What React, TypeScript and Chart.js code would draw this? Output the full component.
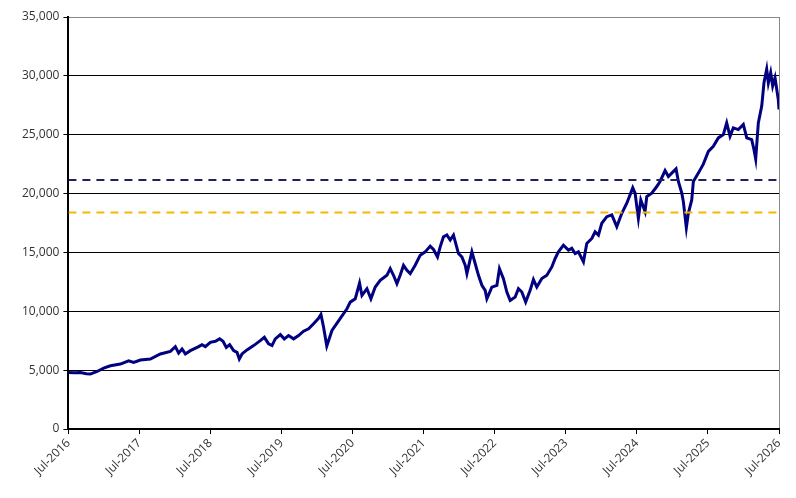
import React, { useEffect, useRef } from 'react';
import { Chart, registerables } from 'chart.js';

Chart.register(...registerables);

// decimal years (Jul-2016 = 2016.5)
const dates: number[] = [
    2016.5, 2016.584, 2016.669, 2016.753, 2016.809, 2016.904, 2016.996, 2017.091, 2017.231, 2017.348, 2017.418,
    2017.513, 2017.653, 2017.794, 2017.935, 2018.005, 2018.051, 2018.099, 2018.146, 2018.216, 2018.333,
    2018.38, 2018.427, 2018.497, 2018.568, 2018.628, 2018.676, 2018.722, 2018.769, 2018.825, 2018.873,
    2018.905, 2018.943, 2019.013, 2019.106, 2019.2, 2019.257, 2019.317, 2019.365, 2019.411, 2019.482,
    2019.538, 2019.598, 2019.669, 2019.739, 2019.809, 2019.88, 2019.95, 2020.02,
    2020.054, 2020.091, 2020.136, 2020.209, 2020.326,
    2020.42, 2020.466, 2020.537, 2020.597, 2020.631, 2020.701, 2020.757, 2020.818, 2020.888, 2020.982,
    2021.029, 2021.075, 2021.123, 2021.169, 2021.216, 2021.264, 2021.31, 2021.38, 2021.451, 2021.521,
    2021.591, 2021.638, 2021.694, 2021.732, 2021.778, 2021.826, 2021.873, 2021.919, 2021.957, 2021.989,
    2022.037, 2022.084, 2022.108, 2022.178, 2022.224, 2022.271, 2022.319, 2022.365, 2022.389, 2022.459,
    2022.53, 2022.566, 2022.622, 2022.67, 2022.717, 2022.787, 2022.833, 2022.881, 2022.935, 2022.998,
    2023.044, 2023.092, 2023.162, 2023.233, 2023.303, 2023.35, 2023.396, 2023.466, 2023.537, 2023.584,
    2023.631, 2023.677, 2023.748, 2023.795, 2023.866, 2023.912, 2023.959, 2024.006, 2024.077, 2024.147,
    2024.217, 2024.288, 2024.358, 2024.404, 2024.442, 2024.475, 2024.499, 2024.521, 2024.555, 2024.615,
    2024.639, 2024.709, 2024.78, 2024.826, 2024.897, 2024.943, 2024.991, 2025.051, 2025.084, 2025.132,
    2025.154, 2025.196, 2025.224, 2025.272, 2025.295, 2025.365, 2025.435, 2025.506, 2025.576, 2025.646,
    2025.717, 2025.764, 2025.811, 2025.857, 2025.928, 2025.998, 2026.046, 2026.116, 2026.148, 2026.172,
    2026.209, 2026.257, 2026.289, 2026.327, 2026.35, 2026.383, 2026.411, 2026.444, 2026.468, 2026.49,
    2026.5
];

const indexValues: number[] = [
    4800, 4780, 4800, 4700, 4670, 4890, 5180, 5380, 5520, 5800, 5660,
    5860, 5950, 6380, 6600, 7000, 6450, 6800, 6380, 6660, 7000,
    7170, 7000, 7370, 7450, 7660, 7450, 6940, 7170, 6660, 6510,
    5950, 6380, 6720, 7090, 7510, 7790, 7230, 7090, 7660, 8020,
    7660, 7940, 7660, 7940, 8310, 8510, 8940, 9400,
    9730, 8650, 7050, 8370, 9400,
    10220, 10780, 11070, 12400, 11350, 11920, 11070, 12060, 12630, 13060,
    13630, 13060, 12350, 13060, 13910, 13490, 13200, 13910, 14770, 15050,
    15540, 15250, 14620, 15480, 16330, 16480, 16050, 16480, 15620, 14910,
    14620, 13910, 13200, 15050, 14060, 13060, 12210, 11780, 11070, 12060,
    12210, 13630, 12780, 11640, 10930, 11210, 11920, 11640, 10780, 11780,
    12700, 12060, 12780, 13060, 13770, 14490, 15050, 15620, 15200, 15350,
    14910, 15050, 14200, 15770, 16190, 16760, 16480, 17480, 18040, 18190,
    17190, 18330, 19180, 19890, 20500, 20040, 18890, 17900, 19460, 18470,
    19750, 20040, 20600, 21030, 21950, 21450, 21740, 22100, 21030, 20040,
    19320, 17100, 18330, 19460, 21030, 21740, 22500, 23590, 24020, 24730,
    25010, 26010, 24870, 25590, 25440, 25870, 24730, 24590, 23730, 22940,
    26010, 27430, 29430, 30560, 29400, 30280, 29140, 29850, 28860, 28000,
    27150
];

const upperLevel = 21150;
const lowerLevel = 18400;
const xStart = 2016.5;
const xEnd = 2026.5;

export default function App() {
    const canvasRef = useRef<HTMLCanvasElement>(null);
    const chartRef = useRef<Chart | null>(null);

    useEffect(() => {
        document.body.style.margin = '0';
        if (!canvasRef.current) return;
        if (chartRef.current) chartRef.current.destroy();
        const ctx = canvasRef.current.getContext('2d');
        if (!ctx) return;

        const font = { family: '"Open Sans", "DejaVu Sans", sans-serif', size: 12 };

        chartRef.current = new Chart(ctx, {
            type: 'line',
            data: {
                datasets: [
                    {
                        label: 'Upper',
                        data: [{ x: xStart, y: upperLevel }, { x: xEnd, y: upperLevel }],
                        borderColor: '#1f2060',
                        borderWidth: 2,
                        borderDash: [8, 6],
                        pointRadius: 0
                    },
                    {
                        label: 'Lower',
                        data: [{ x: xStart, y: lowerLevel }, { x: xEnd, y: lowerLevel }],
                        borderColor: '#f5b800',
                        borderWidth: 2,
                        borderDash: [8, 6],
                        pointRadius: 0
                    },
                    {
                        label: 'Index',
                        data: dates.map((d, i) => ({ x: d, y: indexValues[i] })),
                        borderColor: '#000080',
                        borderWidth: 3,
                        pointRadius: 0,
                        tension: 0
                    }
                ]
            },
            options: {
                animation: false,
                responsive: true,
                maintainAspectRatio: false,
                layout: { padding: { left: 18, top: 17, right: 17, bottom: 18 } },
                plugins: {
                    legend: { display: false },
                    tooltip: { enabled: false }
                },
                scales: {
                    x: {
                        type: 'linear',
                        min: xStart,
                        max: xEnd,
                        ticks: {
                            stepSize: 1,
                            color: '#333',
                            font,
                            maxRotation: 45,
                            minRotation: 45,
                            padding: 2,
                            callback: (v) => 'Jul-' + Math.floor(Number(v))
                        },
                        grid: {
                            color: (c) => (c.index === 10 ? '#888' : 'transparent'),
                            tickColor: '#000',
                            tickLength: 5
                        },
                        border: { color: '#000', width: 2 }
                    },
                    y: {
                        min: 0,
                        max: 35000,
                        ticks: {
                            stepSize: 5000,
                            color: '#333',
                            font,
                            padding: 4,
                            callback: (v) => Number(v).toLocaleString('en-US')
                        },
                        grid: {
                            color: (c) => (c.tick && c.tick.value === 35000 ? '#888' : '#000'),
                            tickColor: '#000',
                            tickLength: 5
                        },
                        border: { color: '#000', width: 2 }
                    }
                }
            }
        });

        return () => {
            if (chartRef.current) {
                chartRef.current.destroy();
                chartRef.current = null;
            }
        };
    }, []);

    return (
        <div style={{ width: '796px', height: '498px', position: 'relative', background: '#fff' }}>
            <canvas ref={canvasRef} />
        </div>
    );
}
